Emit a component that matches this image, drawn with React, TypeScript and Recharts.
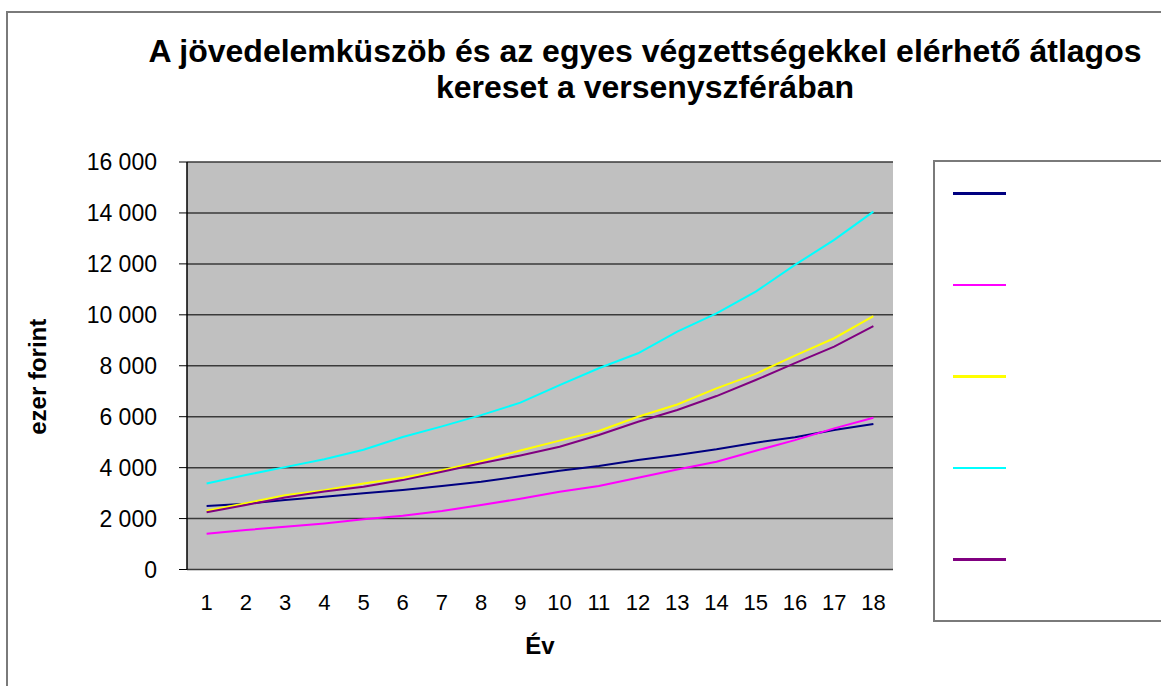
import React from 'react';
import { LineChart, Line, XAxis, YAxis, CartesianGrid, Legend } from 'recharts';

const years = [1, 2, 3, 4, 5, 6, 7, 8, 9, 10, 11, 12, 13, 14, 15, 16, 17, 18];
const seriesNavy = [2490, 2580, 2730, 2860, 2990, 3120, 3280, 3450, 3660, 3880, 4060, 4300, 4500, 4720, 4980, 5190, 5480, 5710];
const seriesMagenta = [1400, 1550, 1680, 1810, 1970, 2110, 2300, 2530, 2780, 3050, 3280, 3600, 3930, 4230, 4660, 5080, 5540, 5960];
const seriesYellow = [2310, 2600, 2920, 3110, 3380, 3600, 3900, 4250, 4670, 5060, 5440, 6000, 6480, 7110, 7680, 8400, 9080, 9950];
const seriesCyan = [3380, 3710, 4020, 4330, 4700, 5200, 5620, 6060, 6550, 7240, 7900, 8490, 9340, 10060, 10910, 11960, 12940, 14050];
const seriesPurple = [2250, 2530, 2830, 3060, 3250, 3510, 3840, 4170, 4480, 4820, 5280, 5800, 6260, 6810, 7440, 8100, 8750, 9560];

const yTicks = [0, 2000, 4000, 6000, 8000, 10000, 12000, 14000, 16000];
const boundaryTicks = [0.5, 1.5, 2.5, 3.5, 4.5, 5.5, 6.5, 7.5, 8.5, 9.5, 10.5, 11.5, 12.5, 13.5, 14.5, 15.5, 16.5, 17.5, 18.5];

const titleLines = ['A jövedelemküszöb és az egyes végzettségekkel elérhető átlagos', 'kereset a versenyszférában'];
const yLabel = 'ezer forint';
const xLabel = 'Év';

const series = [
  { key: 's1', color: '#000080' },
  { key: 's2', color: '#FF00FF' },
  { key: 's3', color: '#FFFF00' },
  { key: 's4', color: '#00FFFF' },
  { key: 's5', color: '#800080' },
];

const data = years.map((ev, i) => ({
  ev,
  s1: seriesNavy[i],
  s2: seriesMagenta[i],
  s3: seriesYellow[i],
  s4: seriesCyan[i],
  s5: seriesPurple[i],
}));

const FONT = '"Liberation Sans", Arial, sans-serif';

const fmt = (v: number) => {
  const s = String(v);
  return s.length > 3 ? s.slice(0, s.length - 3) + ' ' + s.slice(s.length - 3) : s;
};

const LegendBox = (props: any) => {
  const payload = props.payload || [];
  return (
    <div style={{ width: '100%', height: '100%', boxSizing: 'border-box' }}>
      {payload.map((p: any) => (
        <div key={p.value} style={{ height: 91.5, position: 'relative' }}>
          <div style={{ position: 'absolute', left: 18, top: 30, width: 53, height: 2.5, background: p.color }} />
        </div>
      ))}
    </div>
  );
};

export default function App() {
  return (
    <div style={{ position: 'absolute', left: 0, top: 0, width: 1161, height: 686, overflow: 'hidden', background: '#fff', fontFamily: FONT }}>
      <div style={{ position: 'absolute', left: 6, top: 11, width: 1300, height: 800, border: '2px solid #7a7a7a' }} />
      <div style={{ position: 'absolute', left: 95, width: 1100, top: 33, textAlign: 'center', fontWeight: 'bold', fontSize: 32, lineHeight: '36px', color: '#000', whiteSpace: 'nowrap' }}>
        {titleLines.map((t) => (<div key={t}>{t}</div>))}
      </div>
      <div style={{ position: 'absolute', left: 0, top: 0 }}>
        <LineChart width={1161} height={686} data={data} margin={{ top: 162, right: 8, bottom: 26.5, left: 0 }}>
          <CartesianGrid vertical={false} fill="#C0C0C0" stroke="#3a3a3a" strokeWidth={1.5} horizontalValues={yTicks} />
          <XAxis xAxisId="b" type="number" dataKey="ev" domain={[0.5, 18.5]} ticks={boundaryTicks} height={0}
            tickSize={6} tickFormatter={() => ''} axisLine={{ stroke: '#000', strokeWidth: 1.5 }} tickLine={{ stroke: '#000', strokeWidth: 1 }} />
          <XAxis xAxisId="a" type="number" dataKey="ev" domain={[0.5, 18.5]} ticks={years} height={90}
            axisLine={false} tickLine={false} tickSize={0} tickMargin={25} interval={0}
            tick={{ fill: '#000', fontSize: 22, fontFamily: FONT }}
            label={{ content: (p: any) => (
              <text x={p.viewBox.x + p.viewBox.width / 2} y={p.viewBox.y + 76} textAnchor="middle" dominantBaseline="central" fontWeight="bold" fontSize={24} fontFamily={FONT} fill="#000">{xLabel}</text>
            ) }} />
          <YAxis type="number" domain={[0, 16000]} ticks={yTicks} width={187} tickSize={8} tickMargin={22}
            tickFormatter={fmt} axisLine={{ stroke: '#000', strokeWidth: 1.5 }} tickLine={{ stroke: '#000', strokeWidth: 1 }}
            tick={{ fill: '#000', fontSize: 23, fontFamily: FONT }}
            label={{ content: (p: any) => {
              const cx = p.viewBox.x + 37;
              const cy = p.viewBox.y + p.viewBox.height / 2 + 11;
              return (<text x={cx} y={cy} transform={`rotate(-90 ${cx} ${cy})`} textAnchor="middle" dominantBaseline="central" fontWeight="bold" fontSize={24} fontFamily={FONT} fill="#000">{yLabel}</text>);
            } }} />
          <YAxis yAxisId="r" orientation="right" width={0} domain={[0, 16000]} tick={false} tickLine={false} axisLine={{ stroke: '#808080', strokeWidth: 1.5 }} />
          <Legend layout="vertical" align="right" verticalAlign="top" content={<LegendBox />}
            wrapperStyle={{ position: 'absolute', left: 933, top: 160, width: 260, height: 462, border: '2px solid #7a7a7a', background: '#fff', boxSizing: 'border-box' }} />
          {series.map((s) => (
            <Line key={s.key} xAxisId="b" type="linear" dataKey={s.key} stroke={s.color} strokeWidth={2} dot={false} isAnimationActive={false} legendType="line" />
          ))}
        </LineChart>
      </div>
    </div>
  );
}
